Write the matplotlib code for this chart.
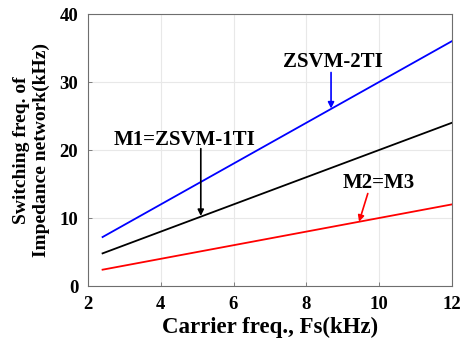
import matplotlib
matplotlib.use("Agg")
import matplotlib.pyplot as plt
import numpy as np

plt.rcParams['font.family'] = ['Liberation Serif', 'DejaVu Serif']
plt.rcParams['font.weight'] = 'bold'

fs = np.array([2.4, 12.0])
zsvm2ti = np.array([7.2, 36.0])
m1 = np.array([4.8, 24.0])
m2m3 = np.array([2.4, 12.0])

xticks = [2, 4, 6, 8, 10, 12]
yticks = [0, 10, 20, 30, 40]

fig = plt.figure(figsize=(4.62, 3.39), dpi=100)
ax = fig.add_axes([0.1905, 0.1563, 0.978 - 0.1905, 0.9587 - 0.1563])

ax.plot(fs, zsvm2ti, color='#0000ff', lw=1.3)
ax.plot(fs, m1, color='#000000', lw=1.3)
ax.plot(fs, m2m3, color='#ff0000', lw=1.3)

ax.set_xlim(2, 12)
ax.set_ylim(0, 40)
ax.set_xticks(xticks)
ax.set_yticks(yticks)
ax.grid(True, color='#e8e8e8', lw=0.8)
ax.set_axisbelow(True)
for s in ax.spines.values():
    s.set_color('#6e6e6e')
    s.set_linewidth(0.8)
ax.tick_params(labelsize=13.5, length=3, width=0.6, direction='in', color='#6e6e6e')
ax.tick_params(axis='x', pad=7)
ax.tick_params(axis='y', pad=7)
for lab in ax.get_xticklabels() + ax.get_yticklabels():
    lab.set_fontweight('bold')

ax.set_xlabel('Carrier freq., Fs(kHz)', fontsize=16.5, fontweight='bold', labelpad=3)
ax.set_ylabel('Switching freq. of\nImpedance network(kHz)', fontsize=14, fontweight='bold',
              labelpad=7, linespacing=1.2)

arrow_kw = dict(arrowstyle='-|>', lw=1.2, shrinkA=0, shrinkB=0, mutation_scale=9)

ax.text(8.74, 32.9, 'ZSVM-2TI', ha='center', va='center', fontsize=15, fontweight='bold')
ax.annotate('', xy=(8.68, 26.1), xytext=(8.68, 31.4),
            arrowprops=dict(color='#0000ff', **arrow_kw))

ax.text(4.65, 21.5, 'M1=ZSVM-1TI', ha='center', va='center', fontsize=15, fontweight='bold')
ax.annotate('', xy=(5.1, 10.3), xytext=(5.1, 20.2),
            arrowprops=dict(color='#000000', **arrow_kw))

ax.text(9.98, 15.1, 'M2=M3', ha='center', va='center', fontsize=15, fontweight='bold')
ax.annotate('', xy=(9.45, 9.45), xytext=(9.69, 13.6),
            arrowprops=dict(color='#ff0000', **arrow_kw))

fig.savefig('out.png', dpi=100)
